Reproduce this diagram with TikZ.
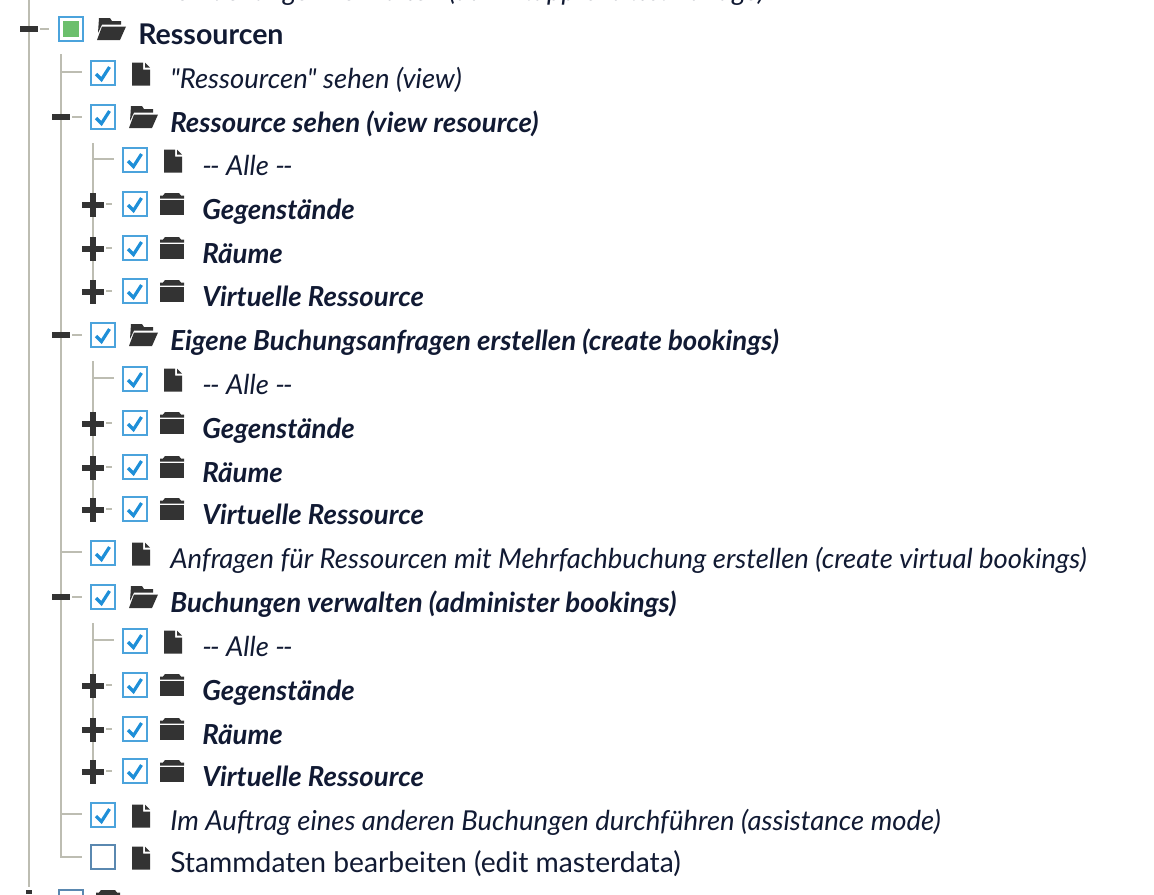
\documentclass[tikz,border=0pt]{standalone}
\usepackage{fontspec}
\setmainfont{Lato}[Ligatures=TeXOff]
\usetikzlibrary{positioning}
\definecolor{inktext}{HTML}{111A33}
\definecolor{iconink}{HTML}{333333}
\definecolor{treeline}{HTML}{BDBDB2}
\definecolor{boxblue}{HTML}{4BA3DC}
\definecolor{boxplain}{HTML}{5A88B0}
\definecolor{tickblue}{HTML}{1E8FD8}
\definecolor{fillgreen}{HTML}{6CBF6C}

\tikzset{
    x=0.75pt, y=-0.75pt,
    treerule/.style={draw=treeline, line width=1.9pt},
    stub/.style={draw=treeline, line width=1.5pt},
    toggle/.style={draw=iconink, line width=4pt},
    tickbox/.style={rectangle, draw=boxblue, line width=1.7pt, fill=white, minimum size=18pt, inner sep=0pt, outer sep=0pt},
    plainbox/.style={tickbox, draw=boxplain},
    greenbox/.style={tickbox, path picture={\fill[fillgreen] ([xshift=2.9pt,yshift=2.9pt]path picture bounding box.south west) rectangle ([xshift=-2.9pt,yshift=-2.9pt]path picture bounding box.north east);}},
    label/.style={anchor=base west, inner sep=0pt, text=inktext, font=\fontsize{21.2pt}{24pt}\selectfont},
    perm/.style={label, font=\fontsize{20.6pt}{24pt}\selectfont\itshape},
    group/.style={label, font=\fontsize{20.7pt}{24pt}\selectfont\itshape\bfseries},
    head/.style={label, font=\fontsize{21.4pt}{24pt}\selectfont\bfseries}
}

% tick, page and folder drawn around a named box / coordinate
\newcommand{\tick}[1]{\draw[tickblue, line width=2.4pt] ([shift={(-7,1)}]#1.center) -- ([shift={(-1.5,6.5)}]#1.center) -- ([shift={(6.5,-6)}]#1.center);}
\newcommand{\pageicon}[1]{\fill[iconink] ([shift={(-9,-11.5)}]#1) -- ([shift={(2,-11.5)}]#1) -- ([shift={(2,-4.5)}]#1) -- ([shift={(9,-4.5)}]#1) -- ([shift={(9,11.5)}]#1) -- ([shift={(-9,11.5)}]#1) -- cycle;
    \fill[iconink] ([shift={(4,-11.5)}]#1) -- ([shift={(9,-6.5)}]#1) -- ([shift={(4,-6.5)}]#1) -- cycle;}
\newcommand{\foldershut}[1]{\fill[iconink] ([shift={(-7,-11)}]#1) -- ([shift={(7,-11)}]#1) -- ([shift={(9,-8.5)}]#1) -- ([shift={(12,-8.5)}]#1) -- ([shift={(12,-5.5)}]#1) -- ([shift={(-12,-5.5)}]#1) -- ([shift={(-12,-8.5)}]#1) -- ([shift={(-9,-8.5)}]#1) -- cycle;
    \fill[iconink] ([shift={(-12,-4)}]#1) rectangle ([shift={(12,11)}]#1);}
\newcommand{\folderopen}[1]{\fill[iconink] ([shift={(-11,-11)}]#1) -- ([shift={(0,-11)}]#1) -- ([shift={(2,-8)}]#1) -- ([shift={(11,-8)}]#1) -- ([shift={(11,-4.5)}]#1) -- ([shift={(-8,-4.5)}]#1) -- ([shift={(-12,4)}]#1) -- cycle;
    \fill[iconink] ([shift={(-8,-2.5)}]#1) -- ([shift={(16,-2.5)}]#1) -- ([shift={(10,11)}]#1) -- ([shift={(-13,11)}]#1) -- cycle;}
\newcommand{\allerow}{-\kern-1.4pt- Alle -\kern-1.4pt-}

\begin{document}
\begin{tikzpicture}
    \useasboundingbox (0,0) rectangle (1154,894);

    % long tree lines
    \coordinate (top) at (29,0);
    \coordinate (end) at (29,887);
    \draw[treerule] (top) -- (end);
    \coordinate (a1) at (61,54);
    \coordinate (a2) at (61,857);
    \draw[treerule] (a1) -- (a2) -- ++(21,0);
    \foreach \ya/\yb in {143/297, 361/515, 623/777} {
        \coordinate (s\ya) at (93,\ya);
        \coordinate (e\yb) at (93,\yb);
        \draw[treerule] (s\ya) -- (e\yb);
    }

    % top row, only just visible
    \node[perm, anchor=base east] (cutoff) at (765,0) {Alle Buchungen verwalten (admin.approval.to.manage)};

    % Ressourcen
    \node[tickbox, greenbox] (root) at (71,29) {};
    \coordinate (rootfold) at (110,29);
    \folderopen{rootfold}
    \node[head] (roottext) at (138,44) {Ressourcen};
    \draw[stub] (40,29) -- (49,29);
    \draw[toggle] (20,29) -- (38,29);

    % rows: y, box x, text, kind
    \foreach \yy/\xx/\kind/\txt in {
        73/103/p/{"Ressourcen" sehen (view)},
        117/103/o/{Ressource sehen (view resource)},
        160/135/p/{\allerow},
        204/135/c/{Gegenstände},
        248/135/c/{Räume},
        291/135/c/{Virtuelle Ressource},
        335/103/o/{Eigene Buchungsanfragen erstellen (create bookings)},
        379/135/p/{\allerow},
        423/135/c/{Gegenstände},
        467/135/c/{Räume},
        509/135/c/{Virtuelle Ressource},
        553/103/p/{Anfragen für Ressourcen mit Mehrfachbuchung erstellen (create virtual bookings)},
        597/103/o/{Buchungen verwalten (administer bookings)},
        641/135/p/{\allerow},
        685/135/c/{Gegenstände},
        729/135/c/{Räume},
        771/135/c/{Virtuelle Ressource},
        815/103/p/{Im Auftrag eines anderen Buchungen durchführen (assistance mode)}
    }{
        \node[tickbox] (b\yy) at (\xx,\yy) {};
        \tick{b\yy}
        \if\kind c
            \coordinate (i\yy) at (\xx+37,\yy);
            \foldershut{i\yy}
            \node[group] (t\yy) at (\xx+67,\yy+15) {\txt};
            \draw[stub] (\xx-29,\yy) -- (\xx-23,\yy);
            \draw[toggle] (\xx-53,\yy+1) -- (\xx-31,\yy+1);
            \draw[toggle] (\xx-42,\yy-11) -- (\xx-42,\yy+13);
        \fi
        \if\kind o
            \coordinate (i\yy) at (\xx+39,\yy);
            \folderopen{i\yy}
            \node[group] (t\yy) at (\xx+67,\yy+15) {\txt};
            \draw[stub] (\xx-31,\yy) -- (\xx-21,\yy);
            \draw[toggle] (\xx-51,\yy) -- (\xx-33,\yy);
        \fi
        \if\kind p
            \coordinate (i\yy) at (\xx+38,\yy+1);
            \pageicon{i\yy}
            \node[perm] (t\yy) at (\xx+67,\yy+15) {\txt};
            \draw[stub] (\xx-42,\yy-1) -- (\xx-21,\yy-1);
        \fi
    }

    % last row, not ticked
    \node[plainbox] (plain) at (103,857) {};
    \coordinate (plainpage) at (141,858);
    \pageicon{plainpage}
    \node[label] (plaintext) at (170,872) {Stammdaten bearbeiten (edit masterdata)};

    % next group, cut off at the bottom
    \node[plainbox] (nextbox) at (71,902) {};
    \coordinate (nextfold) at (108,901);
    \foldershut{nextfold}
    \draw[toggle] (29,890) -- (29,894);
\end{tikzpicture}
\end{document}
